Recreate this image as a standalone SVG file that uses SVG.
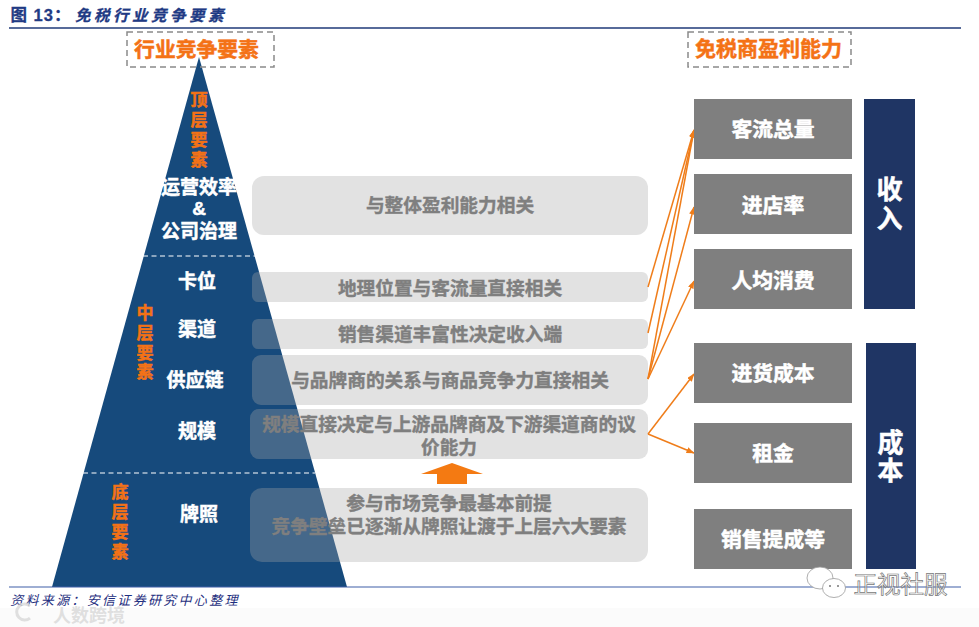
<svg xmlns="http://www.w3.org/2000/svg" width="979" height="627" viewBox="0 0 979 627">
<style>
text{font-family:"Liberation Sans","Noto Sans CJK SC",sans-serif;font-weight:700;text-anchor:middle;dominant-baseline:central}
.o{fill:#f47216;stroke:#f47216;stroke-width:.5}
.w{fill:#fff;stroke:#fff;stroke-width:.5}
.g{fill:#7f7f7f;stroke:#7f7f7f;stroke-width:.4;font-size:18.7px}
.b{fill:#7f7f7f}
.l{font-size:19px}
.r{font-size:20.8px}
.v{font-size:17px}
.d{fill:#1f3564}
.n{font-size:26px}
.t{fill:#a7a7a7;fill-opacity:.33}
.a{stroke:#ef7d1a;stroke-width:1.5;fill:none;marker-end:url(#h)}
.dash{fill:none;stroke:#8a8a8a;stroke-width:1.5;stroke-dasharray:6 4}
.wd{stroke:#fff;stroke-width:1.2;stroke-dasharray:5 3.5;fill:none}
.ti{fill:#1f3a84;stroke:#1f3a84;stroke-width:.3}
</style>
<defs><marker id="h" markerUnits="userSpaceOnUse" markerWidth="8" markerHeight="6" refX="7.500" refY="3" orient="auto"><path d="M0 0L8 3L0 6Z" fill="#ef7d1a"/></marker></defs>
<rect width="979" height="627" fill="#fff"/>
<rect y="608" width="979" height="19" fill="#fbfbfb"/>
<g id="header">
<text class="ti" x="41" y="15" font-size="16.500" letter-spacing="1">图 13：</text>
<text class="ti" x="151" y="15" font-size="15.500" letter-spacing="3.500" style="font-style:italic">免税行业竞争要素</text>
<line x1="9" y1="28" x2="961" y2="28" stroke="#1f3a78" stroke-width="1.3"/>
</g>
<g id="pyramid">
<path d="M199 57L347 587H52Z" fill="#164a7c"/>
<line class="wd" x1="143" y1="256" x2="255" y2="256"/>
<line class="wd" x1="83" y1="473" x2="315" y2="473"/>
</g>
<g id="head-left"><rect class="dash" x="127" y="32" width="147" height="35"/><text class="o" x="196.500" y="49" font-size="20.800">行业竞争要素</text></g>
<g id="head-right"><rect class="dash" x="688" y="32" width="163" height="35"/><text class="o" x="768.500" y="48" font-size="21">免税商盈利能力</text></g>
<g id="tier-top"><text class="o v" x="199" y="100">顶</text><text class="o v" x="199" y="120">层</text><text class="o v" x="199" y="140">要</text><text class="o v" x="199" y="160">素</text></g>
<g id="tier-mid"><text class="o v" x="145" y="313">中</text><text class="o v" x="145" y="333">层</text><text class="o v" x="145" y="353">要</text><text class="o v" x="145" y="372">素</text></g>
<g id="tier-bottom"><text class="o v" x="120" y="492">底</text><text class="o v" x="120" y="512">层</text><text class="o v" x="120" y="532">要</text><text class="o v" x="120" y="552">素</text></g>
<g id="factor-ops"><text class="w l" x="199" y="187">运营效率</text><text class="w l" x="199" y="208" font-size="20">&amp;</text><text class="w l" x="199" y="231">公司治理</text></g>
<g id="factor-slot"><text class="w l" x="197" y="281">卡位</text></g>
<g id="factor-channel"><text class="w l" x="197" y="329">渠道</text></g>
<g id="factor-supply"><text class="w l" x="195" y="380">供应链</text></g>
<g id="factor-scale"><text class="w l" x="197" y="431">规模</text></g>
<g id="factor-license"><text class="w l" x="199" y="514">牌照</text></g>
<g id="desc-1"><rect class="t" x="252" y="176" width="396" height="59" rx="12"/><text class="g" x="450" y="205">与整体盈利能力相关</text></g>
<g id="desc-2"><rect class="t" x="252" y="272" width="396" height="30" rx="6"/><text class="g" x="450" y="288">地理位置与客流量直接相关</text></g>
<g id="desc-3"><rect class="t" x="252" y="319" width="396" height="30" rx="6"/><text class="g" x="450" y="334">销售渠道丰富性决定收入端</text></g>
<g id="desc-4"><rect class="t" x="252" y="355" width="396" height="50" rx="9"/><text class="g" x="450" y="380">与品牌商的关系与商品竞争力直接相关</text></g>
<g id="desc-5"><rect class="t" x="250" y="409" width="398" height="50" rx="9"/><text class="g" x="449" y="424">规模直接决定与上游品牌商及下游渠道商的议</text><text class="g" x="449" y="447">价能力</text></g>
<g id="desc-6"><rect class="t" x="250" y="488" width="398" height="74" rx="12"/><text class="g" x="449" y="503">参与市场竞争最基本前提</text><text class="g" x="449" y="526">竞争壁垒已逐渐从牌照让渡于上层六大要素</text></g>
<g id="up-arrow"><path d="M452 463L483 474H467V484H437V474H421Z" fill="#f47a12"/></g>
<g id="connectors">
<line class="a" x1="648" y1="287" x2="694" y2="130"/>
<line class="a" x1="648" y1="333" x2="694" y2="130"/>
<line class="a" x1="648" y1="379" x2="694" y2="130"/>
<line class="a" x1="648" y1="379" x2="694" y2="207"/>
<line class="a" x1="648" y1="379" x2="694" y2="281"/>
<line class="a" x1="648" y1="434" x2="694" y2="374"/>
<line class="a" x1="648" y1="434" x2="694" y2="453"/>
</g>
<g id="box-traffic"><rect class="b" x="694" y="99" width="158" height="60"/><text class="w r" x="773" y="129">客流总量</text></g>
<g id="box-rate"><rect class="b" x="694" y="174" width="158" height="60"/><text class="w r" x="773" y="205">进店率</text></g>
<g id="box-spend"><rect class="b" x="694" y="249" width="158" height="60"/><text class="w r" x="773" y="280">人均消费</text></g>
<g id="box-purchase"><rect class="b" x="694" y="343" width="158" height="60"/><text class="w r" x="773" y="373">进货成本</text></g>
<g id="box-rent"><rect class="b" x="694" y="423" width="158" height="60"/><text class="w r" x="773" y="453">租金</text></g>
<g id="box-commission"><rect class="b" x="694" y="509" width="158" height="60"/><text class="w r" x="773" y="539">销售提成等</text></g>
<g id="income"><rect class="d" x="864" y="99" width="51" height="210"/><text class="w n" x="889.500" y="190">收</text><text class="w n" x="889.500" y="219">入</text></g>
<g id="cost"><rect class="d" x="866" y="343" width="50" height="226"/><text class="w n" x="890.500" y="443">成</text><text class="w n" x="890.500" y="471">本</text></g>
<g id="footer">
<line x1="9" y1="587" x2="961" y2="587" stroke="#3f5fa8" stroke-width="1.2"/>
<text x="125" y="600" font-size="13" fill="#1f2f80" letter-spacing="2.300" style="font-style:italic;font-weight:400">资料来源：安信证券研究中心整理</text>
<text x="89" y="616" font-size="18" fill="#d8d8d8" fill-opacity=".8">人数跨境</text>
<path d="M30 606A8 8 0 1 0 30 618" fill="none" stroke="#d8d8d8" stroke-width="3" opacity=".8"/>
</g>
<g id="watermark">
<ellipse cx="820" cy="578" rx="13" ry="11" fill="#fff" stroke="#999" stroke-width=".8"/>
<ellipse cx="834" cy="588" rx="11.500" ry="9.500" fill="#fff" stroke="#999" stroke-width=".8"/>
<circle cx="830" cy="586" r="1" fill="#777"/><circle cx="838" cy="586" r="1" fill="#777"/>
<text x="900.500" y="585" font-size="23.500" fill="#fff" fill-opacity=".5" stroke="#777" stroke-width=".7" style="font-weight:400">正视社服</text>
</g>
</svg>
